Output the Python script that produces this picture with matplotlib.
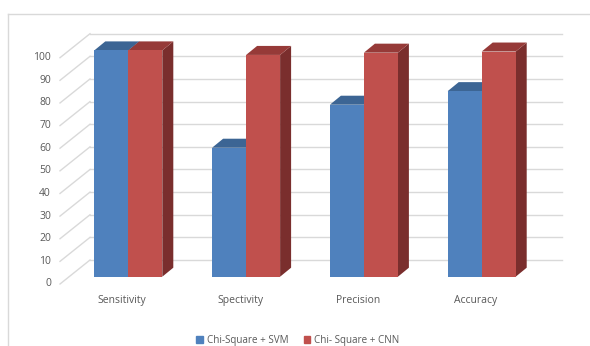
import matplotlib.pyplot as plt
from matplotlib.patches import Patch, Polygon
from matplotlib.lines import Line2D

# valeurs
categories = ['Sensitivity', 'Spectivity', 'Precision', 'Accuracy']
svm = [100, 57, 76, 82]
cnn = [100, 98, 99, 99.5]
ticks = list(range(0, 101, 10))
labels = ['Chi-Square + SVM', 'Chi- Square + CNN']

blue, blue_top, blue_side = '#4F81BD', '#3C6594', '#345780'
red, red_top, red_side = '#C0504D', '#963A38', '#7A2E2D'
grid_c = '#D9D9D9'
txt_c = '#595959'

W, H = 590, 346
fig = plt.figure(figsize=(W / 100, H / 100), dpi=100)
ax = fig.add_axes([0, 0, 1, 1])
# 1 unité x = un espacement de catégorie, 1 unité y = 1 point de pourcentage
sx, sy = 117.8, 2.263
x0px, y0px = 128.3, 276.7
ax.set_xlim(-x0px / sx, (W - x0px) / sx)
ax.set_ylim((y0px - H) / sy, y0px / sy)
ax.axis('off')

PX, PY = 1 / sx, 1 / sy
width = 34 * PX
ddx, ddy = 11 * PX, 9 * PY          # profondeur des barres
back_dx, back_dy = 21 * PX, 16.7 * PY  # mur du fond
front_dx, front_dy = -8.5 * PX, -7.3 * PY  # plan avant (étiquettes)
left_front = (60 - x0px) * PX
left_back = (90 - x0px) * PX
right_back = (562 - x0px) * PX

# grille du mur du fond + diagonales du côté gauche
for t in ticks:
    ax.plot([left_back, right_back], [t + back_dy, t + back_dy], color=grid_c, lw=1, zorder=1)
    ax.plot([left_front, left_back], [t + front_dy, t + back_dy], color=grid_c, lw=1, zorder=1)
    ax.text(left_front - 9 * PX, t + front_dy, str(t), ha='right', va='center',
            fontsize=7.5, color=txt_c, family='Open Sans')


def bar3d(x, v, front, top, side, z):
    ax.add_patch(Polygon([(x + width, 0), (x + width + ddx, ddy), (x + width + ddx, v + ddy),
                          (x + width, v)], closed=True, fc=side, ec='none', zorder=z))
    ax.add_patch(Polygon([(x, v), (x + width, v), (x + width + ddx, v + ddy), (x + ddx, v + ddy)],
                         closed=True, fc=top, ec='none', zorder=z))
    ax.bar(x, v, width=width, align='edge', color=front, zorder=z + 0.5)


for i, cat in enumerate(categories):
    bar3d(i - width, svm[i], blue, blue_top, blue_side, 2)
    bar3d(i, cnn[i], red, red_top, red_side, 3)
    ax.text(i - 6 * PX, -10.3, cat, ha='center', va='center', fontsize=7.5,
            color=txt_c, family='Open Sans')

# cadre gris clair
fig.add_artist(Line2D([8 / W, 1], [1 - 14 / H, 1 - 14 / H], color=grid_c, lw=1))
fig.add_artist(Line2D([8 / W, 8 / W], [0, 1 - 14 / H], color=grid_c, lw=1))

handles = [Patch(color=blue, label=labels[0]), Patch(color=red, label=labels[1])]
fig.legend(handles=handles, loc='center', bbox_to_anchor=(298 / W, 1 - 340 / H), ncol=2,
           frameon=False, handlelength=0.7, handleheight=0.7,
           handletextpad=0.4, columnspacing=1.5, prop={'family': 'Open Sans', 'size': 7.1},
           labelcolor=txt_c)

fig.savefig('out.png', dpi=100)
